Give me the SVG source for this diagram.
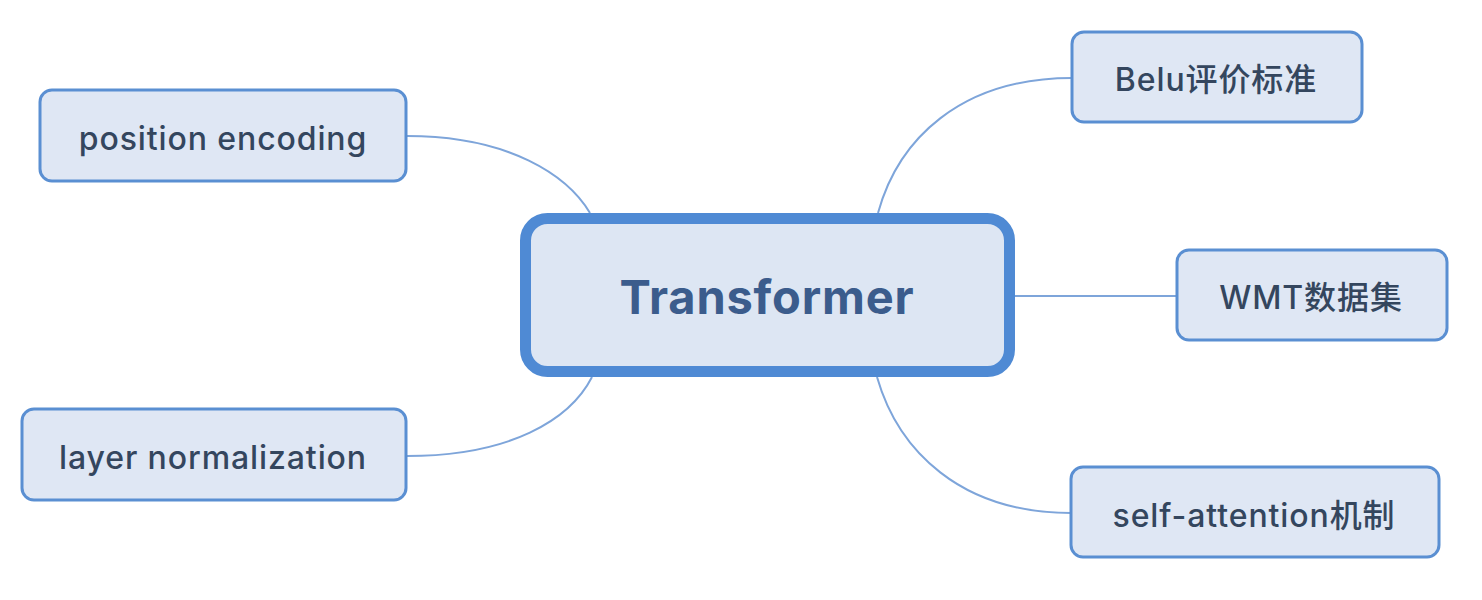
<svg xmlns="http://www.w3.org/2000/svg" width="1482" height="600" viewBox="0 0 1482 600">
  <style>
    .topic { fill: #dfe7f4; stroke: #5a8fd2; stroke-width: 3; }
    .root { fill: #dde6f3; stroke: #4f8ad4; stroke-width: 11; }
    .label { font-family: Inter, "Noto Sans CJK SC", sans-serif; font-size: 32px; font-weight: 500; letter-spacing: 0.9px; fill: #34465e; text-anchor: middle; }
    .root-label { font-family: Inter, "Noto Sans CJK SC", sans-serif; font-size: 47px; font-weight: bold; letter-spacing: 0.8px; fill: #3b5c8c; text-anchor: middle; }
    .link { fill: none; stroke: #7ea5da; stroke-width: 2; }
  </style>
  <rect width="1482" height="600" fill="#ffffff"/>

  <g id="connectors">
    <path class="link" d="M407,136 C510,136 568,176 590,213"/>
    <path class="link" d="M1072,78 C960,78 898,140 878,213"/>
    <path class="link" d="M1015,296 L1177,296"/>
    <path class="link" d="M407,456 C510,456 570,420 592,377"/>
    <path class="link" d="M1071,513 C960,513 898,450 877,377"/>
  </g>

  <g id="node-transformer">
    <rect class="root" x="525.5" y="218.5" width="484" height="153" rx="22"/>
    <text class="root-label" x="767" y="314">Transformer</text>
  </g>

  <g id="node-position-encoding">
    <rect class="topic" x="40" y="90" width="366" height="91" rx="12"/>
    <text class="label" x="223" y="150">position encoding</text>
  </g>

  <g id="node-layer-normalization">
    <rect class="topic" x="22" y="409" width="384" height="91" rx="12"/>
    <text class="label" x="213" y="469">layer normalization</text>
  </g>

  <g id="node-belu">
    <rect class="topic" x="1072" y="32" width="290" height="90" rx="12"/>
    <text class="label" x="1216" y="91">Belu评价标准</text>
  </g>

  <g id="node-wmt">
    <rect class="topic" x="1177" y="250" width="270" height="90" rx="12"/>
    <text class="label" x="1311" y="309">WMT数据集</text>
  </g>

  <g id="node-self-attention">
    <rect class="topic" x="1071" y="467" width="368" height="90" rx="12"/>
    <text class="label" x="1254" y="527">self-attention机制</text>
  </g>
</svg>
